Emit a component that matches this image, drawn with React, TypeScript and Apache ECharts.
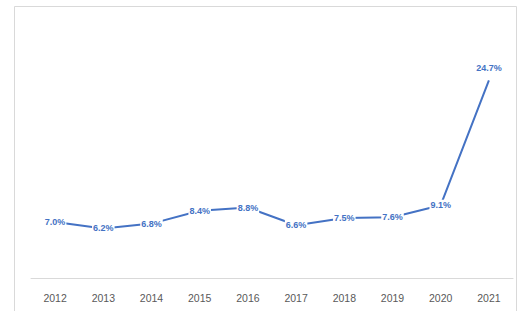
import React, { useEffect, useRef } from "react";
import * as echarts from "echarts";

const years = ["2012", "2013", "2014", "2015", "2016", "2017", "2018", "2019", "2020", "2021"];
const rates = [7.0, 6.2, 6.8, 8.4, 8.8, 6.6, 7.5, 7.6, 9.1, 24.7];

export default function App() {
  const ref = useRef<HTMLDivElement>(null);
  useEffect(() => {
    if (!ref.current) return;
    const chart = echarts.init(ref.current, null, { renderer: "svg" });
    const last = rates.length - 1;
    chart.setOption({
      animation: false,
      backgroundColor: "#ffffff",
      graphic: [
        {
          type: "rect",
          shape: { x: 14.5, y: 6.5, width: 502, height: 320 },
          style: { fill: "none", stroke: "#d9d9d9", lineWidth: 1 },
          silent: true,
        },
      ],
      grid: { left: 31, right: 8, top: 38, bottom: 33 },
      xAxis: {
        type: "category",
        data: years,
        boundaryGap: true,
        axisLine: { lineStyle: { color: "#d9d9d9", width: 1 } },
        axisTick: { show: false },
        axisLabel: { color: "#595959", fontSize: 10.5, fontFamily: "Liberation Sans", margin: 14 },
      },
      yAxis: {
        type: "value",
        min: 0,
        max: 30,
        show: false,
        splitLine: { show: false },
      },
      series: [
        {
          type: "line",
          data: rates.map((v, i) => ({
            value: v,
            label:
              i === last
                ? { position: "top", distance: 6, backgroundColor: "transparent" }
                : {},
          })),
          symbol: "circle",
          symbolSize: 2,
          showSymbol: true,
          itemStyle: { color: "rgba(68,114,196,0)", borderWidth: 0 },
          lineStyle: { color: "#4472C4", width: 2 },
          label: {
            show: true,
            position: "inside",
            formatter: (p: any) => Number(p.value).toFixed(1) + "%",
            color: "#4472C4",
            fontSize: 9,
            fontWeight: "bold",
            fontFamily: "Liberation Sans",
            backgroundColor: "#ffffff",
            padding: [1, 1],
          },
          z: 3,
        },
      ],
    });
    return () => chart.dispose();
  }, []);
  return (
    <div
      ref={ref}
      style={{ position: "fixed", left: 0, top: 0, width: 521, height: 311 }}
    />
  );
}
